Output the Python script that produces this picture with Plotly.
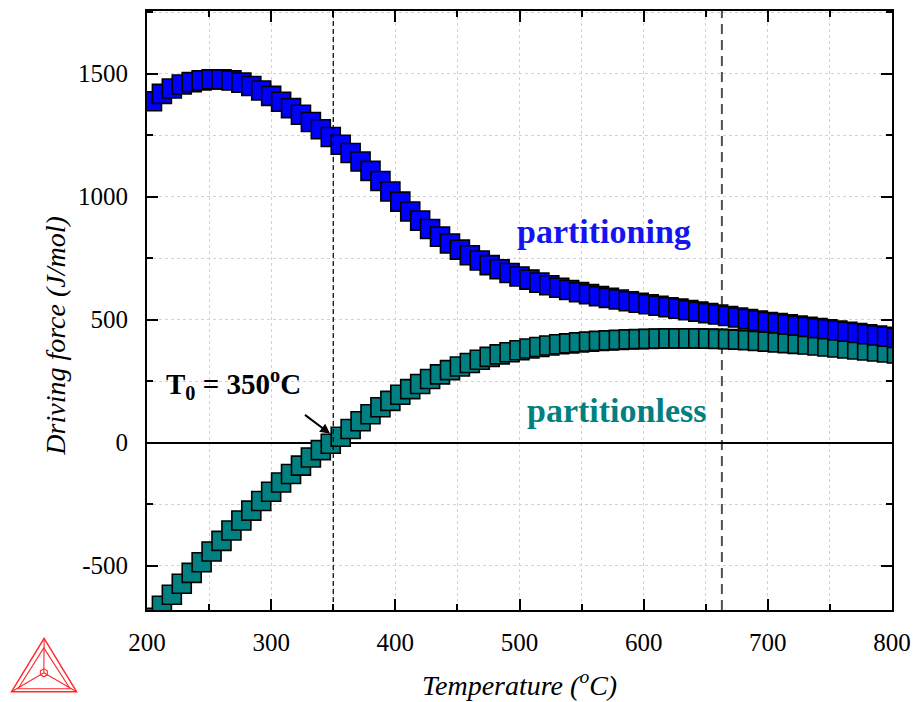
import plotly.graph_objects as go

# ---------------- data ----------------
temperature = [204, 212, 220, 228, 236, 244, 252, 260, 268, 276, 284, 292, 300, 308, 316, 324,
               332, 340, 348, 356, 364, 372, 380, 388, 396, 404, 412, 420, 428, 436, 444, 452,
               460, 468, 476, 484, 492, 500, 508, 516, 524, 532, 540, 548, 556, 564, 572, 580,
               588, 596, 604, 612, 620, 628, 636, 644, 652, 660, 668, 676, 684, 692, 700, 708,
               716, 724, 732, 740, 748, 756, 764, 772, 780, 788, 796, 804]

partitioning = [1388, 1418, 1440, 1456, 1466, 1473, 1477, 1477, 1473, 1464, 1450, 1432, 1410, 1386, 1360, 1333,
                1304, 1274, 1243, 1211, 1178, 1143, 1105, 1064, 1021, 980, 940, 903, 869, 838, 810, 785,
                762, 741, 722, 705, 690, 676, 663, 651, 640, 630, 621, 612, 604, 596, 589, 582,
                575, 569, 563, 557, 551, 545, 539, 533, 527, 521, 515, 509, 503, 497, 491, 486,
                481, 476, 471, 466, 461, 456, 451, 446, 441, 436, 431, 426]

partitionless = [-712, -663, -618, -573, -529, -486, -442, -399, -357, -316, -276, -237, -199, -162, -127, -93,
                 -60, -30, -4, 24, 56, 87, 116, 144, 170, 195, 218, 239, 259, 278, 295, 310,
                 324, 337, 349, 359, 368, 376, 383, 389, 395, 400, 404, 408, 411, 414, 416, 418,
                 420, 421, 422, 423, 424, 424, 424, 424, 423, 422, 421, 419, 417, 414, 411, 408,
                 405, 402, 399, 395, 391, 387, 383, 379, 375, 371, 367, 363]

x_ticks = [200, 300, 400, 500, 600, 700, 800]
x_labels = ["200", "300", "400", "500", "600", "700", "800"]
y_ticks = [-500, 0, 500, 1000, 1500]
y_labels = ["-500", "0", "500", "1000", "1500"]
T0 = 350
T_line2 = 663

FONT = "Liberation Serif, Times New Roman, serif"
BLUE = "#0000FF"
TEAL = "#008080"

# plot area in pixels (for converting decorative logo positions)
L, R, T, B = 147, 898, 9, 610
W, H = 920, 702


def px(xp, yp):
    return (xp - L) / (R - L), (B - yp) / (B - T)


fig = go.Figure()

fig.add_trace(go.Scatter(
    x=temperature, y=partitionless, mode="markers", name="partitionless",
    marker=dict(symbol="square", size=19, color=TEAL, line=dict(color="black", width=1.6)),
))
fig.add_trace(go.Scatter(
    x=temperature, y=partitioning, mode="markers", name="partitioning",
    marker=dict(symbol="square", size=19, color=BLUE, line=dict(color="black", width=1.6)),
))

grid_col = "#d2d2d2"
tick_font = dict(family=FONT, size=25, color="black")

fig.update_xaxes(
    range=[200, 800], tickmode="array", tickvals=x_ticks, ticktext=x_labels,
    showline=True, linecolor="black", linewidth=2, mirror="ticks",
    ticks="inside", ticklen=11, tickwidth=2, tickcolor="black",
    showgrid=True, gridcolor=grid_col, griddash="3px,3px", gridwidth=1,
    tickfont=tick_font, zeroline=False,
    minor=dict(dtick=50, tick0=200, ticks="inside", ticklen=6, tickwidth=2, tickcolor="black",
               showgrid=True, gridcolor=grid_col, griddash="3px,3px", gridwidth=1),
    ticklabelstandoff=9,
)
fig.update_yaxes(
    range=[-680, 1755], tickmode="array", tickvals=y_ticks, ticktext=y_labels,
    showline=True, linecolor="black", linewidth=2, mirror="ticks",
    ticks="inside", ticklen=11, tickwidth=2, tickcolor="black",
    showgrid=True, gridcolor=grid_col, griddash="3px,3px", gridwidth=1,
    tickfont=tick_font,
    zeroline=True, zerolinecolor="black", zerolinewidth=2,
    minor=dict(dtick=250, tick0=0, ticks="inside", ticklen=6, tickwidth=2, tickcolor="black",
               showgrid=True, gridcolor=grid_col, griddash="3px,3px", gridwidth=1),
    ticklabelstandoff=12,
)

shapes = []
# vertical dashed lines
shapes.append(dict(type="line", xref="x", yref="paper", x0=T0, x1=T0, y0=0, y1=1,
                   line=dict(color="black", width=1.2, dash="5px,3px"), layer="above"))
shapes.append(dict(type="line", xref="x", yref="paper", x0=T_line2, x1=T_line2, y0=0, y1=1,
                   line=dict(color="#505050", width=2, dash="10px,6px"), layer="below"))

# Thermo-Calc style logo (decoration, bottom-left)
red = "#ff2a2a"


def tri(pts, w=1.3):
    path = "M " + " L ".join(f"{px(a, b)[0]:.4f},{px(a, b)[1]:.4f}" for a, b in pts) + " Z"
    return dict(type="path", xref="paper", yref="paper", path=path,
                line=dict(color=red, width=w), fillcolor="rgba(0,0,0,0)", layer="above")


outer = [(43.3, 638.5), (10.5, 692), (76, 692)]
inner = [(43.0, 648), (17, 689), (69.5, 689)]
ctr = (43, 673)
shapes.append(tri(outer, 1.5))
shapes.append(tri(inner, 1.1))
for (a, b) in outer:
    p0 = px(a, b)
    p1 = px(*ctr)
    shapes.append(dict(type="line", xref="paper", yref="paper", x0=p0[0], y0=p0[1], x1=p1[0], y1=p1[1],
                       line=dict(color=red, width=1.1)))
hexpts = [(39.5, 671), (43, 669), (46.5, 671), (46.5, 675), (43, 677), (39.5, 675)]
shapes.append(tri(hexpts, 1.1))

annotations = [
    dict(text="<b>partitioning</b>", x=568, y=858, xref="x", yref="y", showarrow=False,
         font=dict(family=FONT, size=34, color="#1414F0")),
    dict(text="<b>partitionless</b>", x=578, y=133, xref="x", yref="y", showarrow=False,
         font=dict(family=FONT, size=34, color=TEAL)),
    dict(text="<b>T<sub>0</sub> = 350<sup>o</sup>C</b>", x=269.5, y=240, xref="x", yref="y",
         showarrow=False, font=dict(family=FONT, size=29, color="black")),
    dict(text="", x=347.5, y=36, xref="x", yref="y", ax=326, ay=118, axref="x", ayref="y",
         showarrow=True, arrowhead=2, arrowsize=1, arrowwidth=2, arrowcolor="black"),
    dict(text="<i>Temperature (<sup>o</sup>C)</i>", x=0.5, y=px(0, 684)[1], xref="paper", yref="paper",
         showarrow=False, xanchor="center", yanchor="middle",
         font=dict(family=FONT, size=28, color="black")),
    dict(text="<i>Driving force (J/mol)</i>", x=px(55, 0)[0], y=px(0, 335)[1], xref="paper", yref="paper",
         showarrow=False, xanchor="center", yanchor="middle", textangle=-90,
         font=dict(family=FONT, size=28, color="black")),
]

fig.update_layout(
    width=W, height=H,
    margin=dict(l=L, r=W - R, t=T, b=H - B),
    plot_bgcolor="white", paper_bgcolor="white",
    font=dict(family=FONT, size=24, color="black"),
    showlegend=False,
    shapes=shapes, annotations=annotations,
)

fig.write_html("out.html")
